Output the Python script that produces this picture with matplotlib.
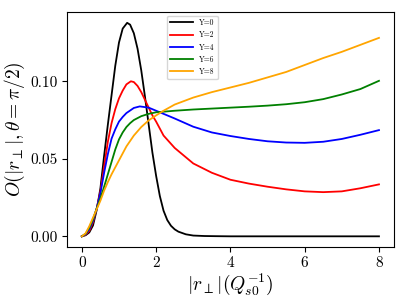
import matplotlib
matplotlib.use("Agg")
import matplotlib.pyplot as plt

plt.rcParams["font.family"] = "serif"
plt.rcParams["font.serif"] = ["cmr10", "DejaVu Serif"]
plt.rcParams["mathtext.fontset"] = "cm"
plt.rcParams["axes.unicode_minus"] = False

# values
x_y0 = [0, 0.1, 0.2, 0.3, 0.4, 0.5, 0.6, 0.7, 0.8, 0.9, 1.0, 1.1, 1.22, 1.3, 1.4, 1.5, 1.6,
        1.7, 1.8, 1.9, 2.0, 2.1, 2.2, 2.3, 2.4, 2.5, 2.6, 2.8, 3.0, 3.3, 3.6, 4, 5, 6, 7, 8]
o_y0 = [0, 0.0007, 0.0025, 0.007, 0.017, 0.031, 0.052, 0.072, 0.091, 0.110, 0.125, 0.134,
        0.1377, 0.1365, 0.131, 0.121, 0.107, 0.090, 0.072, 0.054, 0.039, 0.026, 0.0165,
        0.0105, 0.0068, 0.0045, 0.003, 0.0013, 0.0005, 0.0002, 0.0001, 0, 0, 0, 0, 0]

x_y2 = [0, 0.1, 0.2, 0.3, 0.4, 0.5, 0.6, 0.7, 0.8, 0.9, 1.0, 1.1, 1.2, 1.32, 1.4, 1.5, 1.6,
        1.7, 1.8, 1.9, 2.0, 2.2, 2.5, 2.75, 3.0, 3.5, 4.0, 4.5, 5.0, 5.5, 6.0, 6.5, 7.0, 7.5, 8.0]
o_y2 = [0, 0.001, 0.0035, 0.009, 0.018, 0.029, 0.045, 0.061, 0.073, 0.082, 0.089, 0.094,
        0.098, 0.100, 0.0995, 0.097, 0.093, 0.088, 0.083, 0.078, 0.074, 0.065, 0.057, 0.052,
        0.047, 0.041, 0.0365, 0.034, 0.032, 0.0303, 0.029, 0.0285, 0.029, 0.031, 0.0335]

x_y4 = [0, 0.1, 0.2, 0.3, 0.4, 0.5, 0.6, 0.7, 0.8, 0.9, 1.0, 1.1, 1.2, 1.4, 1.56, 1.8, 2.0,
        2.5, 3.0, 3.5, 4.0, 4.5, 5.0, 5.5, 6.0, 6.5, 7.0, 7.5, 8.0]
o_y4 = [0, 0.0013, 0.0045, 0.010, 0.018, 0.028, 0.041, 0.053, 0.063, 0.069, 0.074, 0.077,
        0.0795, 0.0828, 0.0838, 0.083, 0.081, 0.076, 0.0707, 0.067, 0.0647, 0.0628, 0.0613,
        0.0605, 0.0603, 0.061, 0.0628, 0.0655, 0.0685]

x_y6 = [0, 0.1, 0.2, 0.3, 0.4, 0.5, 0.6, 0.7, 0.8, 0.9, 1.0, 1.1, 1.2, 1.3, 1.4, 1.6, 1.8,
        2.0, 2.5, 3.0, 3.5, 4.0, 4.5, 5.0, 5.5, 6.0, 6.5, 7.0, 7.5, 8.0]
o_y6 = [0, 0.0016, 0.0055, 0.011, 0.018, 0.0245, 0.032, 0.040, 0.048, 0.056, 0.0625, 0.067,
        0.0705, 0.073, 0.075, 0.0775, 0.079, 0.080, 0.081, 0.0818, 0.0824, 0.083, 0.0836,
        0.0843, 0.0852, 0.0865, 0.0885, 0.0915, 0.095, 0.1003]

x_y8 = [0, 0.1, 0.2, 0.3, 0.4, 0.5, 0.6, 0.7, 0.8, 0.9, 1.0, 1.2, 1.4, 1.6, 1.8, 2.0, 2.2,
        2.5, 3.0, 3.5, 4.0, 4.5, 5.0, 5.5, 6.0, 6.5, 7.0, 7.5, 8.0]
o_y8 = [0, 0.0019, 0.0065, 0.012, 0.0175, 0.023, 0.0295, 0.035, 0.040, 0.0445, 0.049,
        0.058, 0.065, 0.0705, 0.0748, 0.078, 0.081, 0.085, 0.0895, 0.093, 0.096, 0.099,
        0.1025, 0.106, 0.1105, 0.115, 0.119, 0.1235, 0.128]

series = [("Y=0", x_y0, o_y0, "black"),
          ("Y=2", x_y2, o_y2, "red"),
          ("Y=4", x_y4, o_y4, "blue"),
          ("Y=6", x_y6, o_y6, "green"),
          ("Y=8", x_y8, o_y8, "orange")]

fig = plt.figure(figsize=(4.06, 3.04), dpi=100)
ax = fig.add_axes([0.165, 0.1875, 0.805, 0.7725])
for label, xs, ys, color in series:
    ax.plot(xs, ys, color=color, lw=1.3, label=label)

ax.set_xticks([0, 2, 4, 6, 8])
ax.set_yticks([0.0, 0.05, 0.10])
ax.set_yticklabels(["0.00", "0.05", "0.10"])
ax.tick_params(labelsize=11)
ax.set_xlabel(r"$|r_\perp|(Q_{s0}^{-1})$", fontsize=14, labelpad=1)
ax.set_ylabel(r"$O(|r_\perp|,\theta=\pi/2)$", fontsize=14, labelpad=2)
ax.legend(loc="upper left", bbox_to_anchor=(0.3, 0.995), fontsize=5.5,
          handlelength=3.0, borderaxespad=0.3)

fig.savefig("out.png", dpi=100)
